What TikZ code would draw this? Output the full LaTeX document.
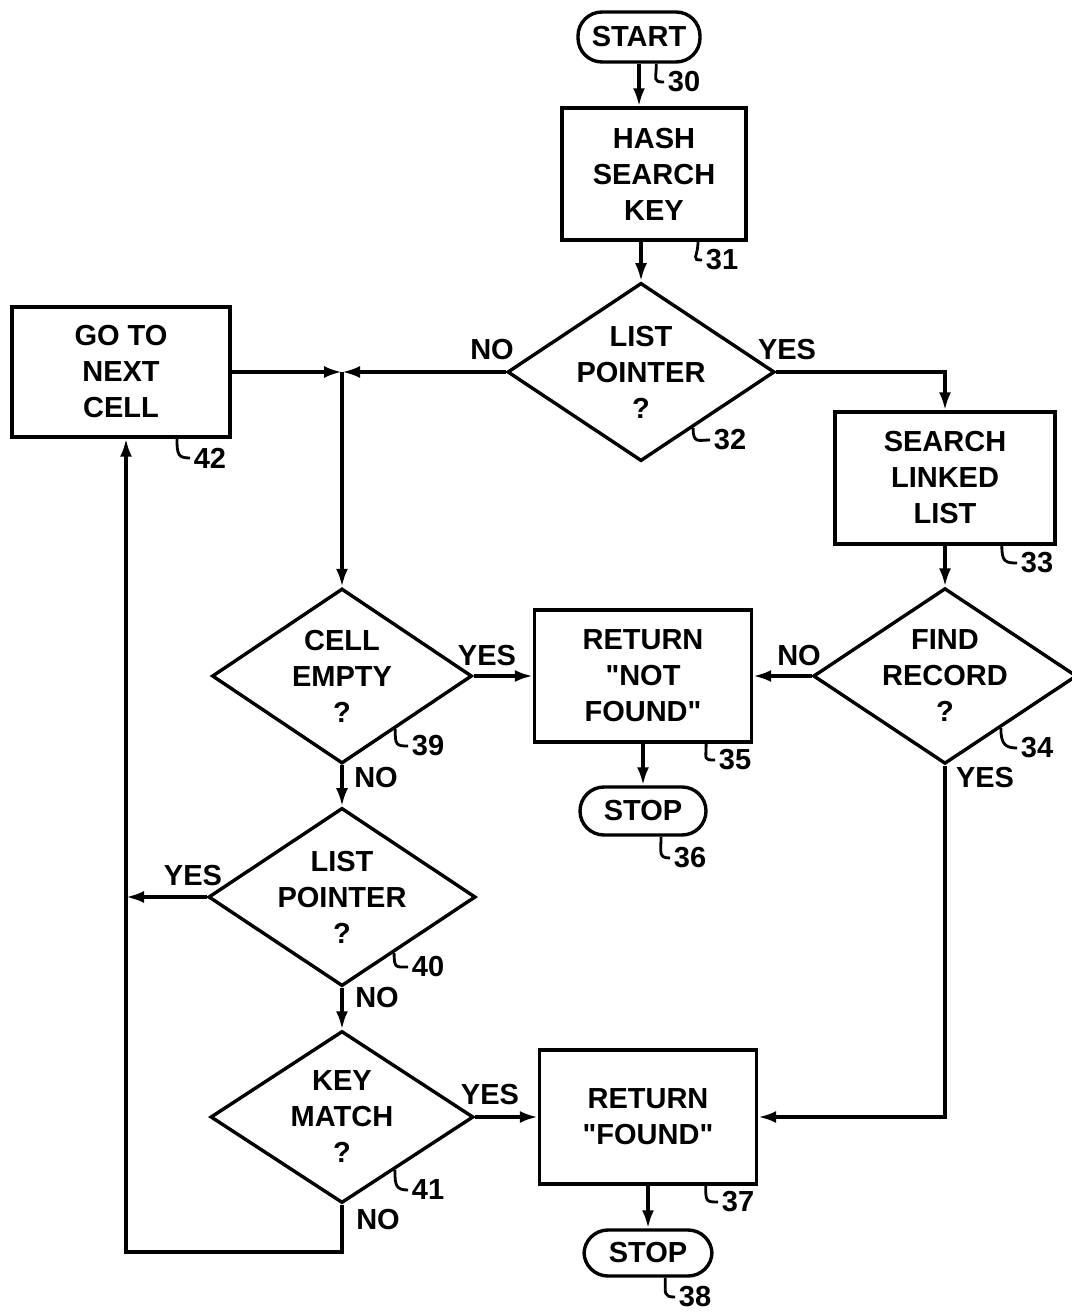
\documentclass[tikz,border=0pt]{standalone}
\usepackage{fontspec}
\setmainfont{Liberation Sans}
\usetikzlibrary{arrows.meta, positioning, shapes.geometric}

\begin{document}
\begin{tikzpicture}[x=0.5pt, y=-0.5pt, line width=1.7pt,
    every node/.style={font=\bfseries\fontsize{14.5}{18}\selectfont, align=center},
    box/.style={draw, rectangle, inner sep=0pt},
    decision/.style={draw, diamond, aspect=1.5, inner sep=0pt},
    terminal/.style={draw, rectangle, rounded corners=12pt, inner sep=0pt},
    flow/.style={-{Latex[length=9pt, width=6pt]}},
    refnum/.style={inner sep=1pt}]
    \useasboundingbox (0,0) rectangle (1071,1315);

    % Main column
    \node[terminal, minimum width=61pt, minimum height=25pt] (start) at (639,37) {START};
    \node[box, minimum width=92pt, minimum height=66pt] (hash) at (654,174) {HASH\\SEARCH\\KEY};
    \node[decision, minimum width=130pt, minimum height=86.5pt] (ptr1) at (641,372) {LIST\\POINTER\\?};

    % Linked list branch
    \node[box, minimum width=110pt, minimum height=66pt] (linked) at (945,478) {SEARCH\\LINKED\\LIST};
    \node[decision, minimum width=127.5pt, minimum height=87.5pt] (find) at (945,676) {FIND\\RECORD\\?};
    \node[box, minimum width=108.5pt, minimum height=66pt] (notfound) at (643,676) {RETURN\\\textquotedbl NOT\\FOUND\textquotedbl};
    \node[terminal, minimum width=63pt, minimum height=24pt] (stopA) at (643,811) {STOP};

    % Cell scan
    \node[box, minimum width=109pt, minimum height=65pt] (next) at (121,372) {GO TO\\NEXT\\CELL};
    \node[decision, minimum width=130pt, minimum height=87.5pt] (empty) at (342,676) {CELL\\EMPTY\\?};
    \node[decision, minimum width=130.5pt, minimum height=86pt] (ptr2) at (342,897) {LIST\\POINTER\\?};
    \node[decision, minimum width=131.5pt, minimum height=86pt] (match) at (342,1117) {KEY\\MATCH\\?};
    \node[box, minimum width=108.5pt, minimum height=67pt] (found) at (648,1117) {RETURN\\\textquotedbl FOUND\textquotedbl};
    \node[terminal, minimum width=64pt, minimum height=23pt] (stopB) at (648,1253) {STOP};

    % Junctions
    \coordinate (join) at (empty.north |- ptr1.west);
    \coordinate (loop) at (126,1252);

    % Connectors
    \draw[flow] (start.south) -- (hash.north -| start.south);
    \draw[flow] (hash.south -| ptr1.north) -- (ptr1.north);
    \draw[flow] (ptr1.west) -- (join);
    \draw[flow] (next.east |- join) -- (join);
    \draw[flow] (join) -- (empty.north);
    \draw[flow] (ptr1.east) -| (linked.north);
    \draw[flow] (linked.south) -- (find.north);
    \draw[flow] (find.west) -- (notfound.east);
    \draw[flow] (empty.east) -- (notfound.west);
    \draw[flow] (notfound.south) -- (stopA.north);
    \draw[flow] (empty.south) -- (ptr2.north);
    \draw[flow] (ptr2.west) -- (ptr2.west -| loop);
    \draw[flow] (ptr2.south) -- (match.north);
    \draw[flow] (match.east) -- (found.west);
    \draw[flow] (find.south) |- (found.east);
    \draw[flow] (found.south) -- (stopB.north);
    \draw[flow] (match.south) |- (loop) -- (next.south -| loop);

    % Yes / no labels
    \node (no32) at (492,350) {NO};
    \node (yes32) at (787,350) {YES};
    \node (no34) at (799,656) {NO};
    \node (yes34) at (985,778) {YES};
    \node (yes39) at (487,656) {YES};
    \node (no39) at (376,778) {NO};
    \node (yes40) at (193,876) {YES};
    \node (no40) at (377,998) {NO};
    \node (yes41) at (490,1095) {YES};
    \node (no41) at (378,1220) {NO};

    % Reference numerals
    \foreach \src/\x/\y/\num in {start.-57/684/82/30, hash.-57/722/260/31, ptr1.-47/730/440/32,
        linked.-50/1037/563/33, find.-43/1037/748/34, notfound.-47/735/760/35, stopA.-55/690/858/36,
        found.-50/738/1202/37, stopB.-55/695/1297/38, empty.-45/428/746/39, ptr2.-47/428/967/40,
        match.-45/428/1190/41, next.-50/210/458/42} {
        \node[refnum] (ref\num) at (\x,\y) {\num};
        \draw[line width=1.4pt] (\src) .. controls +(0,16) and +(-12,0) .. (ref\num.west);
    }
\end{tikzpicture}
\end{document}
